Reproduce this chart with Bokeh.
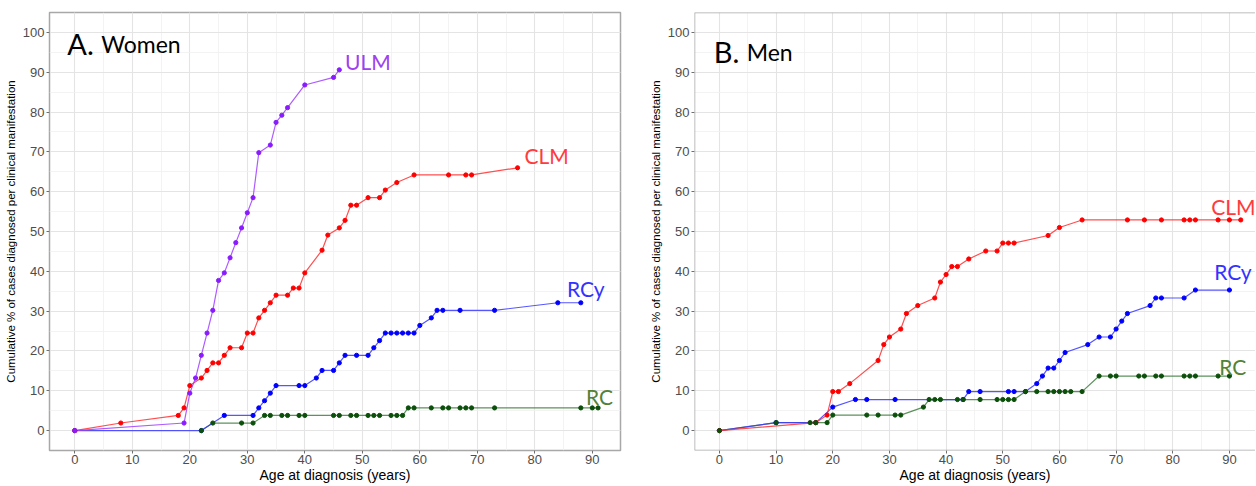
from bokeh.plotting import figure
from bokeh.layouts import row
from bokeh.models import SingleIntervalTicker, Span, Range1d
from bokeh.core.properties import value
from bokeh.embed import file_html
from bokeh.resources import INLINE

# ---------------- Data: Women (A) ----------------
women_ulm_age = [0, 19, 20, 21, 22, 23, 24, 25, 26, 27, 28, 29, 30, 31, 32, 34, 35, 36, 37, 40, 45, 46]
women_ulm_pct = [0, 1.9, 9.4, 13.2, 18.9, 24.5, 30.2, 37.7, 39.6, 43.4, 47.2, 50.9, 54.7, 58.5, 69.8,
                 71.7, 77.4, 79.2, 81.1, 86.8, 88.7, 90.6]

women_clm_age = [0, 8, 18, 19, 20, 22, 23, 24, 25, 26, 27, 29, 30, 31, 32, 33, 34, 35, 37, 38, 39, 40,
                 43, 44, 46, 47, 48, 49, 51, 53, 54, 56, 59, 65, 68, 69, 77]
women_clm_pct = [0, 1.9, 3.8, 5.7, 11.3, 13.2, 15.1, 17.0, 17.0, 18.9, 20.8, 20.8, 24.5, 24.5, 28.3,
                 30.2, 32.1, 34.0, 34.0, 35.8, 35.8, 39.6, 45.3, 49.1, 50.9, 52.8, 56.6, 56.6, 58.5,
                 58.5, 60.4, 62.3, 64.2, 64.2, 64.2, 64.2, 66.0]

women_rcy_age = [0, 22, 26, 31, 32, 33, 34, 35, 39, 40, 42, 43, 45, 46, 47, 49, 51, 52, 53, 54, 55, 56,
                 57, 58, 59, 60, 62, 63, 64, 67, 73, 84, 88]
women_rcy_pct = [0, 0, 3.8, 3.8, 5.7, 7.5, 9.4, 11.3, 11.3, 11.3, 13.2, 15.1, 15.1, 17.0, 18.9, 18.9,
                 18.9, 20.8, 22.6, 24.5, 24.5, 24.5, 24.5, 24.5, 24.5, 26.4, 28.3, 30.2, 30.2, 30.2,
                 30.2, 32.1, 32.1]

women_rc_age = [22, 24, 29, 31, 33, 34, 36, 37, 39, 40, 45, 46, 48, 49, 51, 52, 53, 55, 56, 57, 58, 59,
                62, 64, 65, 67, 68, 69, 73, 88, 90, 91]
women_rc_pct = [0, 1.9, 1.9, 1.9, 3.8, 3.8, 3.8, 3.8, 3.8, 3.8, 3.8, 3.8, 3.8, 3.8, 3.8, 3.8, 3.8, 3.8,
                3.8, 3.8, 5.7, 5.7, 5.7, 5.7, 5.7, 5.7, 5.7, 5.7, 5.7, 5.7, 5.7, 5.7]

# ---------------- Data: Men (B) ----------------
men_clm_age = [0, 17, 19, 20, 21, 23, 28, 29, 30, 32, 33, 35, 38, 39, 40, 41, 42, 44, 47, 49, 50, 51,
               52, 58, 60, 64, 72, 75, 78, 82, 83, 84, 88, 90, 92]
men_clm_pct = [0, 2.0, 3.9, 9.8, 9.8, 11.8, 17.6, 21.6, 23.5, 25.5, 29.4, 31.4, 33.3, 37.3, 39.2, 41.2,
               41.2, 43.1, 45.1, 45.1, 47.1, 47.1, 47.1, 49.0, 51.0, 52.9, 52.9, 52.9, 52.9, 52.9,
               52.9, 52.9, 52.9, 52.9, 52.9]

men_rcy_age = [0, 10, 17, 20, 24, 26, 31, 43, 44, 46, 51, 52, 54, 56, 57, 58, 59, 60, 61, 65, 67, 69,
               70, 71, 72, 76, 77, 78, 82, 84, 90]
men_rcy_pct = [0, 2.0, 2.0, 5.9, 7.8, 7.8, 7.8, 7.8, 9.8, 9.8, 9.8, 9.8, 9.8, 11.8, 13.7, 15.7, 15.7,
               17.6, 19.6, 21.6, 23.5, 23.5, 25.5, 27.5, 29.4, 31.4, 33.3, 33.3, 33.3, 35.3, 35.3]

men_rc_age = [0, 10, 16, 17, 19, 20, 26, 28, 31, 32, 36, 37, 38, 39, 42, 43, 46, 49, 50, 51, 52, 54,
              56, 58, 59, 60, 61, 62, 64, 67, 69, 70, 74, 75, 77, 78, 82, 83, 84, 88, 90]
men_rc_pct = [0, 2.0, 2.0, 2.0, 2.0, 3.9, 3.9, 3.9, 3.9, 3.9, 5.9, 7.8, 7.8, 7.8, 7.8, 7.8, 7.8, 7.8,
              7.8, 7.8, 7.8, 9.8, 9.8, 9.8, 9.8, 9.8, 9.8, 9.8, 9.8, 13.7, 13.7, 13.7, 13.7, 13.7,
              13.7, 13.7, 13.7, 13.7, 13.7, 13.7, 13.7]

x_title = "Age at diagnosis (years)"
y_title = "Cumulative % of cases diagnosed per clinical manifestation"

# styles
LINE = {"ULM": "#A040FF", "CLM": "#FF3030", "RCy": "#3838FF", "RC": "#3F7F3F"}
PT = {"ULM": "#8A1BFF", "CLM": "#FF0000", "RCy": "#0000FF", "RC": "#0B4F0B"}
LBL = {"ULM": "#A040F0", "CLM": "#FF3B3B", "RCy": "#3333FF", "RC": "#548235"}
BORDER = "#A8A8A8"
H = 485


def make_panel(width, x_start, x_end, b_left, b_right, b_top, series, letter, word,
               letter_xy, labels, full_outline):
    p = figure(width=width, height=H, x_range=Range1d(x_start, x_end), y_range=Range1d(-5, 105),
               output_backend="svg", toolbar_location=None,
               min_border_left=b_left, min_border_right=b_right, min_border_top=b_top,
               min_border_bottom=0)
    p.background_fill_color = "white"
    p.border_fill_color = "white"
    for ax in (p.xaxis[0], p.yaxis[0]):
        ax.ticker = SingleIntervalTicker(interval=10, num_minor_ticks=2)
    p.axis.axis_line_color = None
    p.axis.major_tick_line_color = "#6E6E6E"
    p.axis.major_tick_out = 3
    p.axis.major_tick_in = 0
    p.axis.minor_tick_out = 0
    p.axis.minor_tick_in = 0
    p.axis.major_label_text_font = "Liberation Sans"
    p.axis.major_label_text_font_size = "13px"
    p.axis.major_label_text_color = "#4D4D4D"
    p.axis.major_label_standoff = 2
    p.axis.axis_label_text_font = "Liberation Sans"
    p.axis.axis_label_text_font_style = "normal"
    p.axis.axis_label_text_color = "#000000"
    p.xaxis.axis_label_text_font_size = "14px"
    p.yaxis.axis_label_text_font_size = "11.5px"
    p.xaxis.axis_label_standoff = 0
    p.yaxis.axis_label_standoff = 3
    p.xaxis.major_label_standoff = 1
    p.xaxis.axis_label = x_title
    p.yaxis.axis_label = y_title
    p.grid.grid_line_color = "#E4E4E4"
    p.grid.grid_line_width = 1.1
    p.grid.minor_grid_line_color = "#F0F0F0"
    p.grid.minor_grid_line_width = 0.8
    if full_outline:
        p.outline_line_color = BORDER
        p.outline_line_width = 1.5
    else:
        p.outline_line_color = None
        for loc, dim in ((x_start, "height"), (105, "width"), (-5, "width")):
            p.add_layout(Span(location=loc, dimension=dim, line_color=BORDER, line_width=1.5))

    line_order = ["RC", "RCy", "CLM", "ULM"]
    pt_order = ["RCy", "CLM", "ULM", "RC"]
    for k in line_order:
        if k in series:
            xs, ys = series[k]
            p.line(xs, ys, line_color=LINE[k], line_width=1.2, line_alpha=0.85)
    for k in pt_order:
        if k in series:
            xs, ys = series[k]
            p.scatter(xs, ys, size=4.2, fill_color=PT[k], line_color=PT[k])

    lx, ly, wx = letter_xy
    p.text(x=[lx], y=[ly], text=[letter], text_font=value("Lato"), text_font_size="29px",
           text_color="#000000", text_baseline="alphabetic", text_align="left")
    p.text(x=[wx], y=[ly], text=[word], text_font=value("Lato"), text_font_size="23px",
           text_color="#000000", text_baseline="alphabetic", text_align="left")
    for k, (tx, ty) in labels.items():
        p.text(x=[tx], y=[ty], text=[k], text_font=value("Lato"), text_font_size="21px",
               text_color=LBL[k], text_baseline="alphabetic", text_align="left")
    return p


women = {"ULM": (women_ulm_age, women_ulm_pct), "CLM": (women_clm_age, women_clm_pct),
         "RCy": (women_rcy_age, women_rcy_pct), "RC": (women_rc_age, women_rc_pct)}
men = {"CLM": (men_clm_age, men_clm_pct), "RCy": (men_rcy_age, men_rcy_pct),
       "RC": (men_rc_age, men_rc_pct)}

p1 = make_panel(640, -4.4, 94.9, 49, 20, 8, women, "A.", "Women", (-1.3, 97.2, 4.6),
                {"ULM": (47.0, 92.6), "CLM": (78.2, 69.2), "RCy": (85.6, 35.6), "RC": (88.9, 8.6)},
                True)
p2 = make_panel(615, -4.4, 94.6, 54, 0, 12, men, "B.", "Men", (-1.0, 95.2, 4.8),
                {"CLM": (86.8, 56.4), "RCy": (87.3, 39.9), "RC": (88.2, 16.2)},
                False)

layout = row(p1, p2)
open("out.html", "w").write(file_html(layout, INLINE))
